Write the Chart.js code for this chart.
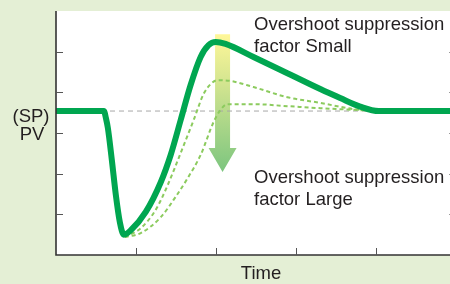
<!DOCTYPE html>
<html>
<head>
<meta charset="utf-8">
<script src="https://cdn.jsdelivr.net/npm/chart.js@4.4.1/dist/chart.umd.min.js"></script>
<style>
  html, body { margin: 0; padding: 0; background: #e4efd5; }
  #wrap { width: 450px; height: 284px; position: relative; overflow: hidden; }
  canvas { display: block; }
</style>
</head>
<body>
<div id="wrap"><canvas id="c" width="450" height="284"></canvas></div>
<script>
// ---- Data (time units on x, process-value units on y) ----
const spLevel = 3.54;
const xTicks = [1, 2, 3, 4];
const yTicks = [1, 2, 3, 4, 5];

const mainX = [0, 0.598, 0.623, 0.648, 0.697, 0.747, 0.797, 0.847, 0.934, 1.121, 1.308, 1.432, 1.557, 1.681, 1.806, 1.905, 1.993, 2.117, 2.466, 2.889, 3.300, 3.549, 3.798, 4.030, 4.92];
const mainY = [3.54, 3.54, 3.37, 3.12, 2.34, 1.48, 0.81, 0.50, 0.61, 1.06, 1.79, 2.46, 3.32, 4.18, 4.87, 5.16, 5.24, 5.19, 4.87, 4.47, 4.08, 3.86, 3.65, 3.54, 3.54];

const midX = [0.859, 1.059, 1.245, 1.395, 1.557, 1.719, 1.843, 1.930, 2.017, 2.179, 2.466, 2.889, 3.300, 3.711, 4.047];
const midY = [0.44, 0.66, 1.11, 1.72, 2.51, 3.32, 3.96, 4.20, 4.30, 4.28, 4.13, 3.88, 3.74, 3.59, 3.54];

const largeX = [0.859, 1.059, 1.308, 1.494, 1.644, 1.806, 1.968, 2.055, 2.142, 2.466, 2.889, 3.300, 3.711, 4.047];
const largeY = [0.44, 0.54, 0.93, 1.43, 1.89, 2.46, 3.27, 3.57, 3.71, 3.71, 3.66, 3.61, 3.57, 3.54];

const spX = [0, 4.92];
const spY = [spLevel, spLevel];

// arrow (x centre, top, shaft bottom, tip) in data units
const arrowX = 2.08, arrowTop = 5.43, arrowShaftBottom = 2.63, arrowTip = 2.04;

const labelTop = ["Overshoot suppression", "factor Small"];
const labelBottom = ["Overshoot suppression", "factor Large"];
const xTitle = "Time";
const yTitle = ["(SP)", "PV"];

const pts = (xs, ys) => xs.map((x, i) => ({ x: x, y: ys[i] }));

const deco = {
  id: 'deco',
  beforeDraw(chart) {
    const { ctx, chartArea: a } = chart;
    ctx.save();
    ctx.fillStyle = '#e4efd5';
    ctx.fillRect(0, 0, chart.width, chart.height);
    ctx.fillStyle = '#ffffff';
    ctx.fillRect(a.left, a.top, a.right - a.left, a.bottom - a.top);
    ctx.restore();
  },
  beforeDatasetsDraw(chart) {
    const { ctx } = chart;
    const xs = chart.scales.x, ys = chart.scales.y;
    const cx = xs.getPixelForValue(arrowX);
    const top = ys.getPixelForValue(arrowTop);
    const sb = ys.getPixelForValue(arrowShaftBottom);
    const tip = ys.getPixelForValue(arrowTip);
    const hw = 7.5, hh = 14;
    const g = ctx.createLinearGradient(0, top, 0, tip);
    g.addColorStop(0, '#fff799');
    g.addColorStop(0.35, '#d4e590');
    g.addColorStop(1, '#7cc57f');
    ctx.save();
    ctx.fillStyle = g;
    ctx.beginPath();
    ctx.moveTo(cx - hw, top);
    ctx.lineTo(cx + hw, top);
    ctx.lineTo(cx + hw, sb);
    ctx.lineTo(cx + hh, sb);
    ctx.lineTo(cx, tip);
    ctx.lineTo(cx - hh, sb);
    ctx.lineTo(cx - hw, sb);
    ctx.closePath();
    ctx.fill();
    ctx.restore();
  },
  afterDraw(chart) {
    const { ctx, chartArea: a } = chart;
    const xs = chart.scales.x, ys = chart.scales.y;
    ctx.save();
    ctx.strokeStyle = '#333333';
    ctx.lineWidth = 1.6;
    ctx.beginPath();
    ctx.moveTo(a.left, a.top);
    ctx.lineTo(a.left, a.bottom);
    ctx.lineTo(chart.width, a.bottom);
    ctx.stroke();
    ctx.lineWidth = 1;
    ctx.strokeStyle = '#555';
    const rightX = xs.getPixelForValue(5);
    yTicks.forEach(v => {
      const p = Math.round(ys.getPixelForValue(v)) + 0.5;
      ctx.beginPath();
      ctx.moveTo(a.left, p); ctx.lineTo(a.left + 7, p);
      ctx.moveTo(rightX, p); ctx.lineTo(rightX - 7, p);
      ctx.stroke();
    });
    xTicks.forEach(v => {
      const p = Math.round(xs.getPixelForValue(v)) + 0.5;
      ctx.beginPath();
      ctx.moveTo(p, a.bottom); ctx.lineTo(p, a.bottom - 7);
      ctx.stroke();
    });
    ctx.fillStyle = '#231f20';
    ctx.font = '18.5px "Liberation Sans", Arial, sans-serif';
    ctx.textBaseline = 'alphabetic';
    ctx.textAlign = 'left';
    ctx.fillText(labelTop[0], 254, 30);
    ctx.fillText(labelTop[1], 254, 52);
    ctx.fillText(labelBottom[0], 254, 183);
    ctx.fillText(labelBottom[1], 254, 205);
    ctx.textAlign = 'center';
    ctx.fillText(xTitle, 261, 279);
    ctx.fillText(yTitle[0], 31, 122);
    ctx.fillText(yTitle[1], 32, 140);
    ctx.restore();
  }
};

new Chart(document.getElementById('c'), {
  type: 'line',
  data: {
    datasets: [
      { data: pts(mainX, mainY), borderColor: '#00a650', borderWidth: 6, order: 1,
        cubicInterpolationMode: 'monotone', pointRadius: 0, borderCapStyle: 'round', borderJoinStyle: 'round' },
      { data: pts(midX, midY), borderColor: '#8ccb5e', borderWidth: 2, borderDash: [4, 3], order: 2,
        cubicInterpolationMode: 'monotone', pointRadius: 0 },
      { data: pts(largeX, largeY), borderColor: '#8ccb5e', borderWidth: 2, borderDash: [4, 3], order: 3,
        cubicInterpolationMode: 'monotone', pointRadius: 0 },
      { data: pts(spX, spY), borderColor: '#a8a8a8', borderWidth: 1, borderDash: [5, 4], order: 4,
        pointRadius: 0 }
    ]
  },
  options: {
    responsive: false,
    animation: false,
    events: [],
    layout: { padding: { left: 56, top: 11, right: 0, bottom: 29 } },
    plugins: { legend: { display: false }, tooltip: { enabled: false } },
    scales: {
      x: { type: 'linear', min: 0, max: 4.92, display: false },
      y: { type: 'linear', min: 0, max: 6, display: false }
    }
  },
  plugins: [deco]
});
</script>
</body>
</html>
